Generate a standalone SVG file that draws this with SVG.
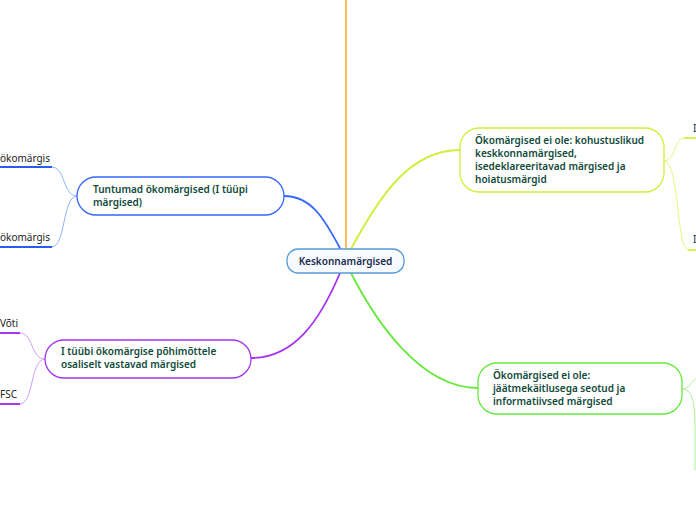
<svg xmlns="http://www.w3.org/2000/svg" width="696" height="520" viewBox="0 0 696 520">
<style>
.t{font-family:"Noto Sans","Open Sans",sans-serif;font-size:10px;font-weight:600;fill:#0f4a3a}
.s{font-family:"Noto Sans","Open Sans",sans-serif;font-size:10px;fill:#222}
.c{fill:none;stroke-width:1;stroke-linecap:round}
.m{fill:none;stroke-width:1.8;stroke-linecap:round}
.u{fill:none;stroke-width:1.8}
.n{fill:#fff;stroke-width:1.3}
</style>
<rect width="696" height="520" fill="#fff"/>
<g id="connectors">
  <path class="m" stroke="#ffb347" d="M346,0 L346,250"/>
  <path class="m" stroke="#3366ff" d="M341,250 C325,220 312,196 284,196"/>
  <path class="m" stroke="#a633f0" d="M340,273 C320,320 295,358 251,358"/>
  <path class="m" stroke="#ccf03c" d="M351,249 C380,195 410,150 460,150"/>
  <path class="m" stroke="#66e83c" d="M351,273 C375,320 420,388 478,388"/>
  <path class="c" stroke="#8fb0ff" d="M77,196 C62,196 66,167 52,167"/>
  <path class="c" stroke="#8fb0ff" d="M77,196 C62,196 66,247 52,247"/>
  <path class="u" stroke="#2a5cf0" d="M0,167 L52,167"/>
  <path class="u" stroke="#2a5cf0" d="M0,247 L52,247"/>
  <path class="c" stroke="#d49cff" d="M45,359 C30,359 34,333 20,333"/>
  <path class="c" stroke="#d49cff" d="M45,359 C30,359 34,404 20,404"/>
  <path class="u" stroke="#a020f0" d="M0,333 L20,333"/>
  <path class="u" stroke="#a020f0" d="M0,404 L20,404"/>
  <path class="c" stroke="#e0f880" d="M664,161 C676,161 674,138 684,138"/>
  <path class="c" stroke="#e0f880" d="M664,161 C680,161 676,250 688,250"/>
  <path class="u" stroke="#ccf03c" d="M684,138 L696,138"/>
  <path class="u" stroke="#ccf03c" d="M688,250 L696,250"/>
  <path class="c" stroke="#a8f090" d="M682,389 C690,389 692,380 697,378"/>
  <path class="c" stroke="#a8f090" d="M682,389 C692,389 695,400 695,430 L695,470"/>
</g>
<g id="center">
  <rect x="287" y="249" width="117" height="24" rx="11" fill="#f7fbff" stroke="#5a9bd5" stroke-width="1.3"/>
  <text x="345.5" y="265" text-anchor="middle" style="font-family:'Noto Sans','Open Sans',sans-serif;font-size:10px;font-weight:600;fill:#1c2b4f">Keskonnamärgised</text>
</g>
<g id="tuntumad">
  <rect class="n" x="77" y="177" width="207" height="38" rx="19" stroke="#3366ff"/>
  <text class="t" x="93" y="193">Tuntumad ökomärgised (I tüüpi</text>
  <text class="t" x="93" y="206">märgised)</text>
</g>
<g id="sub-blue-1"><text class="s" x="0" y="162">ökomärgis</text></g>
<g id="sub-blue-2"><text class="s" x="0" y="241">ökomärgis</text></g>
<g id="osaliselt">
  <rect class="n" x="45" y="340" width="206" height="38" rx="19" stroke="#a633f0"/>
  <text class="t" x="61" y="355">I tüübi ökomärgise põhimõttele</text>
  <text class="t" x="61" y="368">osaliselt vastavad märgised</text>
</g>
<g id="sub-purple-1"><text class="s" x="0" y="327">Võti</text></g>
<g id="sub-purple-2"><text class="s" x="0" y="398">FSC</text></g>
<g id="kohustuslikud">
  <rect class="n" x="460" y="128" width="204" height="64" rx="19" stroke="#ccf03c"/>
  <text class="t" x="475" y="144">Ökomärgised ei ole: kohustuslikud</text>
  <text class="t" x="475" y="157">keskkonnamärgised,</text>
  <text class="t" x="475" y="170">isedeklareeritavad märgised ja</text>
  <text class="t" x="475" y="183">hoiatusmärgid</text>
</g>
<g id="sub-yellow-1"><text class="s" x="693" y="132">I</text></g>
<g id="sub-yellow-2"><text class="s" x="693" y="243">I</text></g>
<g id="jaatme">
  <rect class="n" x="478" y="363" width="204" height="51" rx="19" stroke="#66e83c"/>
  <text class="t" x="493" y="379">Ökomärgised ei ole:</text>
  <text class="t" x="493" y="392">jäätmekäitlusega seotud ja</text>
  <text class="t" x="493" y="405">informatiivsed märgised</text>
</g>
</svg>
